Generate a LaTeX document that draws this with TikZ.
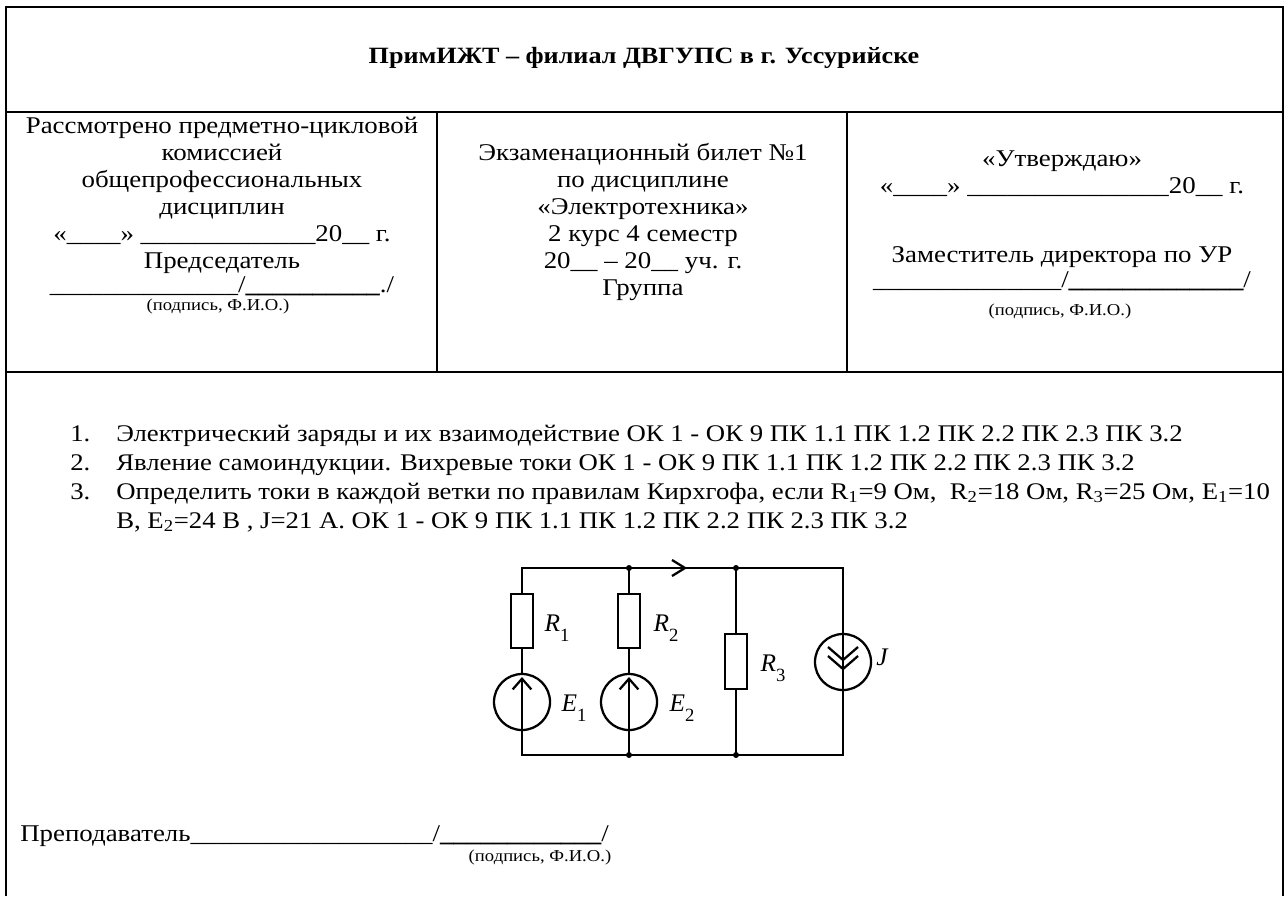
\documentclass[tikz,border=0pt]{standalone}
\usepackage{fontspec}
\setmainfont{Liberation Serif}[FakeStretch=1.12]
\newfontfamily\lblfont{Liberation Serif}
\usetikzlibrary{arrows.meta}
\begin{document}
\begin{tikzpicture}[x=0.75pt,y=-0.75pt,
  txt/.style={font=\fontsize{18}{20}\selectfont, inner sep=0pt, anchor=mid},
  lst/.style={font=\fontsize{17.9}{20}\selectfont, inner sep=0pt, anchor=mid west},
  small/.style={font=\fontsize{12.5}{14}\selectfont, inner sep=0pt, anchor=mid},
  frameline/.style={line width=2.2pt},
  gridline/.style={line width=1.5pt},
  wire/.style={line width=1.7pt},
  resistor/.style={line width=1.7pt, fill=white},
  lbl/.style={font=\lblfont\fontsize{19}{20}\selectfont\itshape, inner sep=0pt, anchor=mid},
  dot/.style={fill=black},
]
\fill[white] (0,0) rectangle (1288,896);
\useasboundingbox (0,0) rectangle (1288,896);
% frame and grid
\draw[frameline] (6,896) -- (6,7) -- (1283,7) -- (1283,896);
\draw[gridline] (6,112) -- (1283,112);
\draw[gridline] (6,372) -- (1283,372);
\draw[gridline] (437,112) -- (437,372);
\draw[gridline] (847,112) -- (847,372);
% title
\node[txt, font=\fontsize{17.5}{20}\selectfont\bfseries] (title) at (644,60) {ПримИЖТ – филиал ДВГУПС в г. Уссурийске};
% column 1
\node[txt] (c1a) at (222,130) {Рассмотрено предметно-цикловой};
\node[txt] (c1b) at (222,157) {комиссией};
\node[txt] (c1c) at (222,184) {общепрофессиональных};
\node[txt] (c1d) at (222,211) {дисциплин};
\node[txt] (c1e) at (222,238) {«\_\_\_\_» \_\_\_\_\_\_\_\_\_\_\_\_\_20\_\_ г.};
\node[txt] (c1f) at (222,265) {Председатель};
\node[txt] (c1g) at (222,289) {\_\_\_\_\_\_\_\_\_\_\_\_\_\_/{\bfseries\_\_\_\_\_\_\_\_\_\_}./};
\node[small] (c1h) at (218,307) {(подпись, Ф.И.О.)};
% column 2
\node[txt] (c2a) at (643,157) {Экзаменационный билет №1};
\node[txt] (c2b) at (643,184) {по дисциплине};
\node[txt] (c2c) at (643,211) {«Электротехника»};
\node[txt] (c2d) at (643,238) {2 курс 4 семестр};
\node[txt] (c2e) at (643,265) {20\_\_ – 20\_\_ уч. г.};
\node[txt] (c2f) at (643,292) {Группа};
% column 3
\node[txt] (c3a) at (1062,163) {«Утверждаю»};
\node[txt] (c3b) at (1062,190) {«\_\_\_\_» \_\_\_\_\_\_\_\_\_\_\_\_\_\_\_20\_\_ г.};
\node[txt] (c3c) at (1062,259) {Заместитель директора по УР};
\node[txt] (c3d) at (1062,284) {\_\_\_\_\_\_\_\_\_\_\_\_\_\_/{\bfseries\_\_\_\_\_\_\_\_\_\_\_\_\_}/};
\node[small] (c3e) at (1060,312) {(подпись, Ф.И.О.)};
% list
\node[lst] (n1) at (70,438) {1.};
\node[lst] (n2) at (70,467) {2.};
\node[lst] (n3) at (70,496) {3.};
\node[lst] (t1) at (116,438) {Электрический заряды и их взаимодействие ОК 1 - ОК 9 ПК 1.1 ПК 1.2 ПК 2.2 ПК 2.3 ПК 3.2};
\node[lst] (t2) at (116,467) {Явление самоиндукции. Вихревые токи ОК 1 - ОК 9 ПК 1.1 ПК 1.2 ПК 2.2 ПК 2.3 ПК 3.2};
\node[lst] (t3) at (116,496) {Определить токи в каждой ветки по правилам Кирхгофа, если R\textsubscript{1}=9 Ом,\ \ R\textsubscript{2}=18 Ом, R\textsubscript{3}=25 Ом, E\textsubscript{1}=10};
\node[lst] (t4) at (116,525) {В, E\textsubscript{2}=24 В , J=21 А. ОК 1 - ОК 9 ПК 1.1 ПК 1.2 ПК 2.2 ПК 2.3 ПК 3.2};
% circuit
\coordinate (a1) at (522,568); \coordinate (a2) at (629,568);
\coordinate (a3) at (736,568); \coordinate (a4) at (843,568);
\coordinate (b1) at (522,755); \coordinate (b2) at (629,755);
\coordinate (b3) at (736,755); \coordinate (b4) at (843,755);
\draw[wire, line cap=rect] (b1) -- (a1) -- (a4) -- (b4) -- cycle;
\draw[wire] (a2) -- (b2);
\draw[wire] (a3) -- (b3);
% resistors
\draw[resistor] (511,594) rectangle (533,648);
\draw[resistor] (618,594) rectangle (640,648);
\draw[resistor] (725,634) rectangle (747,689);
% EMF sources
\draw[resistor] (522,702) circle[radius=28];
\draw[resistor] (629,702) circle[radius=28];
\draw[wire, -{Straight Barb[length=8pt,width=14pt,line width=1.7pt]}] (522,729) -- (522,677);
\draw[wire, -{Straight Barb[length=8pt,width=14pt,line width=1.7pt]}] (629,729) -- (629,677);
% current source
\draw[resistor] (843,662) circle[radius=28];
\draw[wire] (843,634) -- (843,690);
\draw[wire] (828,647) -- (843,660) -- (858,647);
\draw[wire] (828,656) -- (843,669) -- (858,656);
% top arrow
\draw[wire] (672,560) -- (685,568) -- (672,576);
% junction dots
\foreach \p in {a2,a3,b2,b3} \fill[dot] (\p) circle[radius=3];
% labels
\node[lbl] (lr1) at (557,628) {R\raisebox{-0.4em}{\upshape\fontsize{14}{14}\selectfont 1}};
\node[lbl] (lr2) at (666,628) {R\raisebox{-0.4em}{\upshape\fontsize{14}{14}\selectfont 2}};
\node[lbl] (lr3) at (773,668) {R\raisebox{-0.4em}{\upshape\fontsize{14}{14}\selectfont 3}};
\node[lbl] (le1) at (574,708) {E\raisebox{-0.4em}{\upshape\fontsize{14}{14}\selectfont 1}};
\node[lbl] (le2) at (682,708) {E\raisebox{-0.4em}{\upshape\fontsize{14}{14}\selectfont 2}};
\node[lbl] (lj) at (882,662) {J};
% bottom
\node[lst, font=\fontsize{18}{20}\selectfont] (prep) at (20,838) {Преподаватель\_\_\_\_\_\_\_\_\_\_\_\_\_\_\_\_\_\_/{\bfseries\_\_\_\_\_\_\_\_\_\_\_\_}/};
\node[small] (psig) at (540,858) {(подпись, Ф.И.О.)};
\end{tikzpicture}
\end{document}
